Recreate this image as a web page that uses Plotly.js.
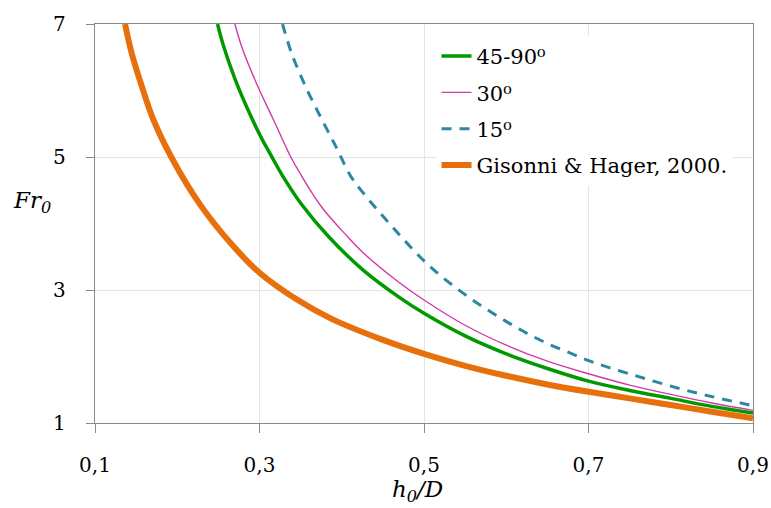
<!DOCTYPE html>
<html><head><meta charset="utf-8">
<script src="https://cdn.plot.ly/plotly-3.0.1.min.js"></script>
<style>body{margin:0;background:#fff}#c{width:771px;height:508px}</style>
</head><body><div id="c"></div>
<script>
// Data
const xTicks = [0.1, 0.3, 0.5, 0.7, 0.9];
const yTicks = [1, 3, 5, 7];

const names = ["45-90⁰", "30⁰", "15⁰", "Gisonni & Hager, 2000."];

const x4590 = [0.249,0.256,0.270,0.290,0.303,0.316,0.327,0.351,0.385,0.426,0.470,0.5,0.55,0.6,0.65,0.7,0.75,0.8,0.85,0.9];
const y4590 = [7.0,6.68,6.18,5.60,5.27,4.98,4.74,4.29,3.79,3.30,2.89,2.65,2.31,2.04,1.82,1.63,1.49,1.37,1.25,1.15];

const x30 = [0.270,0.280,0.298,0.317,0.338,0.349,0.376,0.408,0.426,0.467,0.5,0.55,0.6,0.65,0.7,0.75,0.8,0.85,0.9];
const y30 = [7.0,6.6,6.06,5.56,5.0,4.76,4.24,3.79,3.56,3.14,2.85,2.47,2.17,1.93,1.74,1.57,1.43,1.30,1.19];

const x15 = [0.328,0.339,0.356,0.376,0.394,0.410,0.426,0.443,0.460,0.476,0.495,0.515,0.536,0.558,0.580,0.605,0.628,0.651,0.678,0.702,0.726,0.755,0.779,0.807,0.832,0.856,0.9];
const y15 = [7.0,6.56,6.06,5.56,5.13,4.73,4.46,4.21,3.97,3.75,3.50,3.27,3.06,2.86,2.68,2.49,2.33,2.19,2.05,1.93,1.83,1.72,1.63,1.53,1.45,1.38,1.26];

const xGH = [0.1365,0.1446,0.157,0.171,0.194,0.228,0.268,0.300,0.345,0.387,0.45,0.5,0.55,0.6,0.65,0.7,0.75,0.8,0.85,0.9];
const yGH = [7.0,6.56,6.06,5.56,4.97,4.28,3.66,3.26,2.86,2.57,2.25,2.04,1.86,1.71,1.58,1.47,1.37,1.27,1.17,1.07];

const F = "'DejaVu Serif', serif";

const traces = [
  {x:x4590, y:y4590, name:names[0], legendgroup:"a", line:{color:"#009a00", width:3.5, shape:"spline", smoothing:1}},
  {x:x30, y:y30, name:names[1], legendgroup:"b", line:{color:"#d13aa6", width:1.4, shape:"spline", smoothing:1}},
  {x:x15, y:y15, name:names[2], legendgroup:"c", line:{color:"#2e86a0", width:3, dash:"10px,8px", shape:"spline", smoothing:1}},
  {x:xGH, y:yGH, name:names[3], legendgroup:"d", line:{color:"#e8700c", width:6, shape:"spline", smoothing:1}}
].map(t => Object.assign({type:"scatter", mode:"lines", hoverinfo:"skip"}, t));

const layout = {
  width:771, height:508,
  margin:{l:95, r:18, t:24, b:85},
  paper_bgcolor:"#fff", plot_bgcolor:"#fff",
  separators:",.",
  font:{family:F, size:20, color:"#000"},
  showlegend:true,
  legend:{x:0.519, y:0.97, xanchor:"left", yanchor:"top", bgcolor:"#fff",
          font:{family:F, size:21, color:"#000"}, tracegroupgap:6, traceorder:"grouped"},
  xaxis:{range:[0.1,0.9], tickvals:xTicks, tickformat:".1f", showgrid:true, gridcolor:"#e4e4e4",
         showline:true, linecolor:"#8a8a8a", linewidth:1.3, mirror:true, ticks:"outside", ticklen:9,
         tickcolor:"#8a8a8a", ticklabelstandoff:15, zeroline:false, tickfont:{family:F, size:20}},
  yaxis:{range:[1,7], tickvals:yTicks, showgrid:true, gridcolor:"#e4e4e4",
         showline:true, linecolor:"#8a8a8a", linewidth:1.3, mirror:true, ticks:"outside", ticklen:8,
         tickcolor:"#8a8a8a", ticklabelstandoff:16, zeroline:false, tickfont:{family:F, size:20}},
  annotations:[
    {text:"<i>Fr<sub>0</sub></i>", xref:"paper", yref:"paper", x:-0.095, y:0.555, xanchor:"center", yanchor:"middle",
     showarrow:false, font:{family:F, size:23}},
    {text:"<i>h<sub>0</sub>/D</i>", xref:"paper", yref:"paper", x:0.49, y:-0.213, xanchor:"center", yanchor:"bottom",
     showarrow:false, font:{family:F, size:23}}
  ]
};
Plotly.newPlot("c", traces, layout, {staticPlot:true});
</script></body></html>
